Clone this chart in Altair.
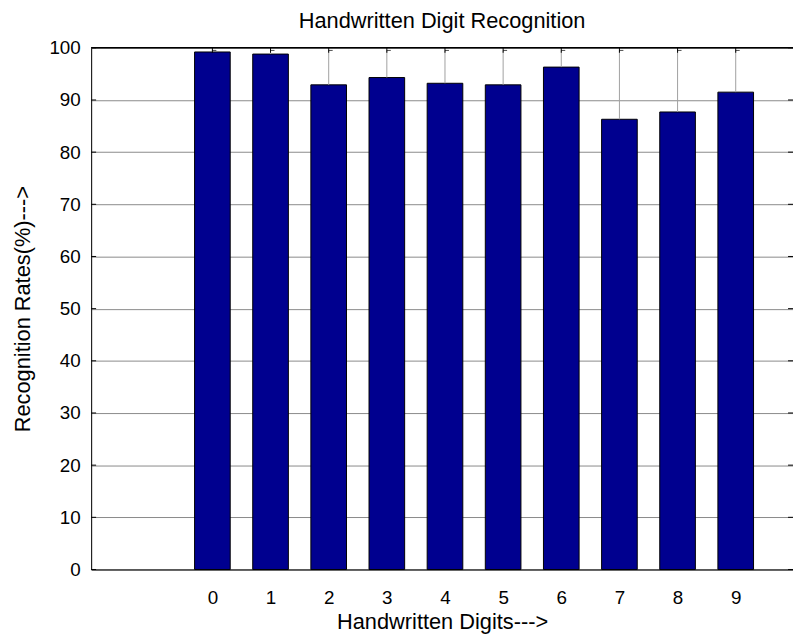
import altair as alt
import pandas as pd

digits = [0, 1, 2, 3, 4, 5, 6, 7, 8, 9]
rates = [99.2, 98.8, 92.9, 94.3, 93.2, 92.9, 96.3, 86.3, 87.7, 91.5]
err_top = [99.5, 99.5, 99.5, 99.5, 99.5, 99.5, 99.5, 99.5, 99.5, 99.5]
y_ticks = [0, 10, 20, 30, 40, 50, 60, 70, 80, 90, 100]

FONT = "Liberation Sans"
W, H = 709, 527

df = pd.DataFrame({"digit": digits, "rate": rates, "top": err_top})
tdf = pd.DataFrame({"tick": y_ticks})
one = pd.DataFrame({"a": [0]})

xs = alt.Scale(domain=[-2, 9.9], nice=False, zero=False)
ys = alt.Scale(domain=[0, 100], nice=False)

bars = alt.Chart(df).mark_bar(size=36, color="#00008F", stroke="black", strokeWidth=1).encode(
    x=alt.X("digit:Q", scale=xs, axis=alt.Axis(
        values=digits, format="d", title="Handwritten Digits--->", grid=False, tickSize=0,
        labelFont=FONT, labelFontSize=19, labelColor="black", labelPadding=19,
        titleFont=FONT, titleFontSize=22, titleFontWeight="normal", titleColor="black",
        titlePadding=5, domainColor="black", domainWidth=1)),
    y=alt.Y("rate:Q", scale=ys, axis=alt.Axis(
        values=y_ticks, format="d", title="Recognition Rates(%)--->", grid=True,
        gridColor="#8a8a8a", gridWidth=1, tickSize=0, labelFont=FONT, labelFontSize=19,
        labelColor="black", labelPadding=11, titleFont=FONT, titleFontSize=22,
        titleFontWeight="normal", titleColor="black", titlePadding=15,
        domainColor="black", domainWidth=1)),
)

err = alt.Chart(df).mark_rule(color="#a0a0a0", strokeWidth=1).encode(
    x=alt.X("digit:Q", scale=xs), y=alt.Y("rate:Q", scale=ys), y2="top:Q")

caps = alt.Chart(df).mark_tick(orient="horizontal", size=4, thickness=1, color="black", xOffset=2).encode(
    x=alt.X("digit:Q", scale=xs), y=alt.Y("top:Q", scale=ys))

top_ticks = alt.Chart(df).mark_rule(color="black", strokeWidth=1).encode(
    x=alt.X("digit:Q", scale=xs), y=alt.value(0), y2=alt.value(5))

left_ticks = alt.Chart(tdf).mark_rule(color="black", strokeWidth=1).encode(
    x=alt.value(0), x2=alt.value(5), y=alt.Y("tick:Q", scale=ys))

right_ticks = alt.Chart(tdf).mark_rule(color="black", strokeWidth=1).encode(
    x=alt.value(W - 5), x2=alt.value(W), y=alt.Y("tick:Q", scale=ys))

top_border = alt.Chart(one).mark_rule(color="black", strokeWidth=1.5).encode(
    x=alt.value(0), x2=alt.value(W), y=alt.value(0))

chart = alt.layer(bars, err, caps, top_ticks, left_ticks, right_ticks, top_border).properties(
    width=W, height=H,
    title=alt.TitleParams("Handwritten Digit Recognition", font=FONT, fontSize=22,
                          fontWeight="normal", color="black", offset=6),
    autosize="none",
    padding={"left": 84, "top": 37, "right": 0, "bottom": 66},
).configure_view(stroke=None).configure(background="white")

chart.save("out.html", embed_options={"renderer": "svg", "actions": False})
